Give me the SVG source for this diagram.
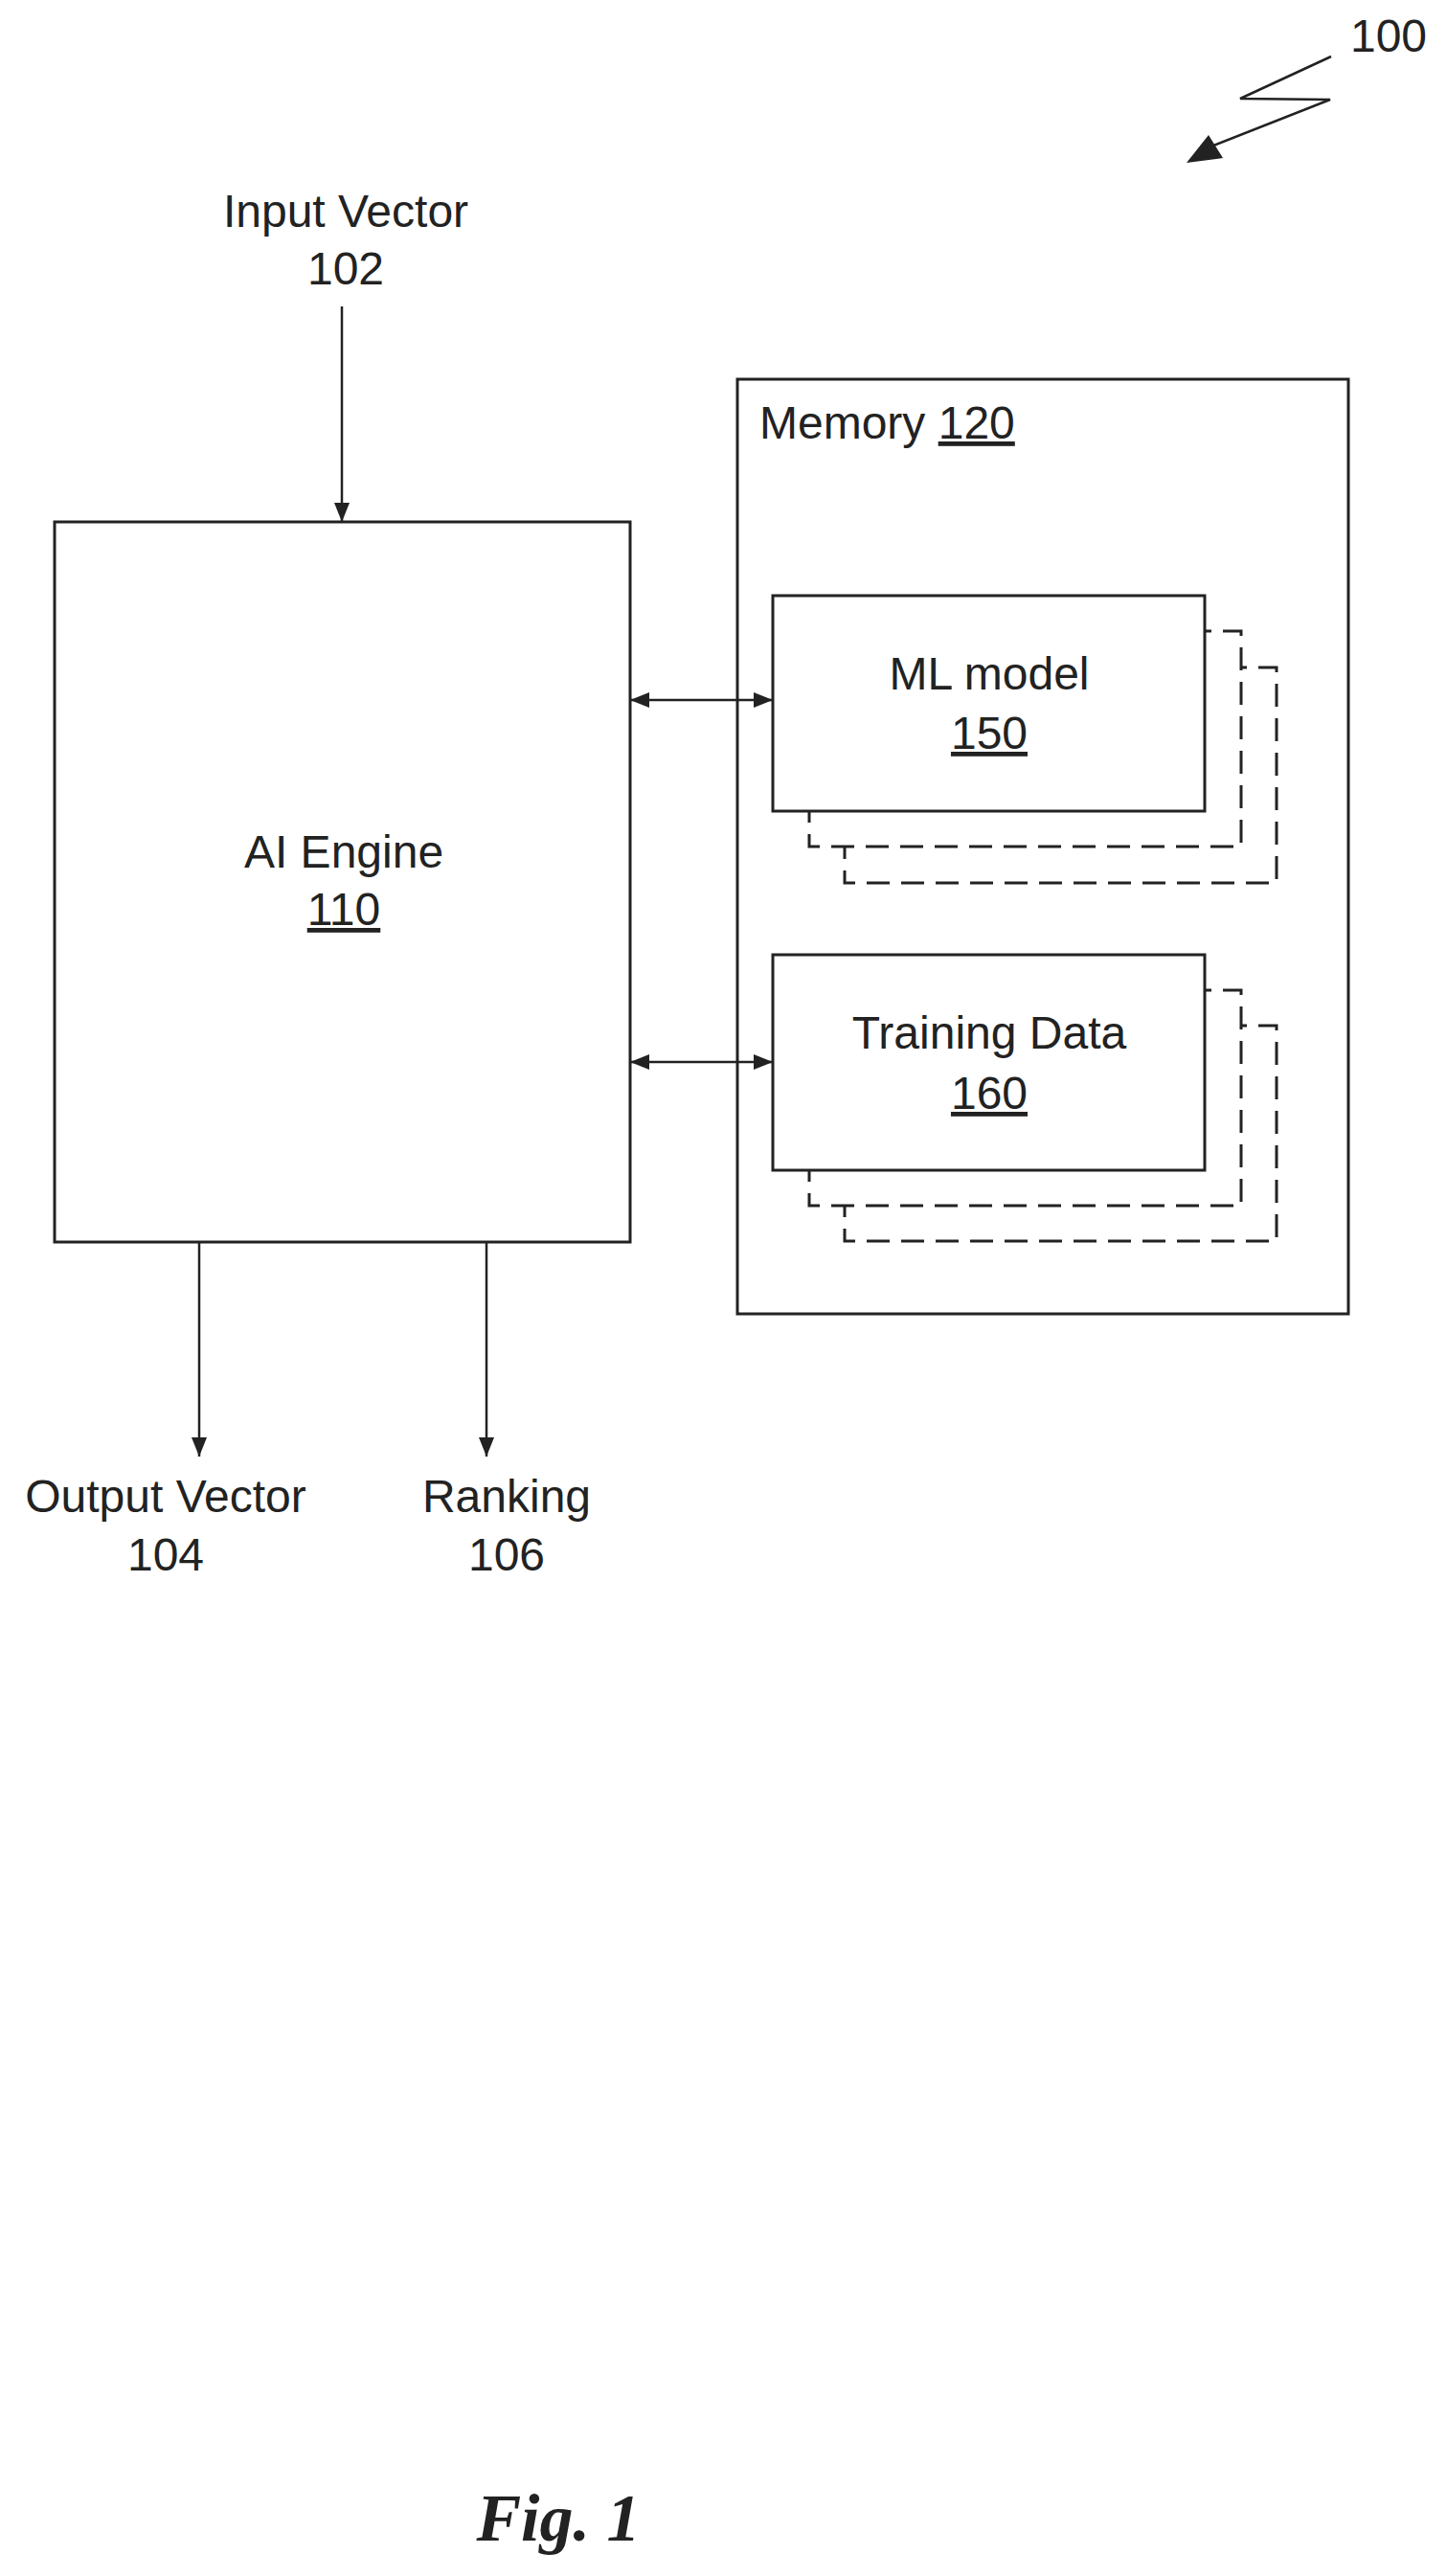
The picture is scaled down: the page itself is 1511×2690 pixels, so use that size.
<svg xmlns="http://www.w3.org/2000/svg" width="1511" height="2690" viewBox="0 0 1511 2690">
<style>
.t{font-family:"Liberation Sans",Arial,sans-serif;font-size:48px;fill:#222;text-anchor:middle}
.b{fill:#fff;stroke:#222;stroke-width:3}
.d{fill:none;stroke:#222;stroke-width:3;stroke-dasharray:24 12}
.c{fill:none;stroke:#222;stroke-width:2.5}
</style>
<defs>
<marker id="a" viewBox="0 0 10 10" refX="10" refY="5" markerWidth="8" markerHeight="8" orient="auto-start-reverse" markerUnits="userSpaceOnUse" style="overflow:visible">
<path d="M0,0 L10,5 L0,10 z" fill="#222" transform="scale(2.2) translate(-5.5,-2.7)"/>
</marker>
<marker id="h" viewBox="0 0 20 16" refX="20" refY="8" markerWidth="20" markerHeight="16" orient="auto-start-reverse" markerUnits="userSpaceOnUse">
<path d="M0,0 L20,8 L0,16 z" fill="#222"/>
</marker>
</defs>
<rect width="1511" height="2690" fill="#fff"/>
<g id="ref100">
<text x="1450" y="54" class="t">100</text>
<polyline class="c" points="1390,59 1295,103 1389,104 1267,152" stroke-width="3"/>
<path d="M1239,170 L1262,141 L1277,165 z" fill="#222"/>
</g>
<g id="input-label"><text x="361" y="237" class="t">Input Vector</text><text x="361" y="297" class="t">102</text></g>
<g id="ai-engine">
<rect class="b" x="57" y="545" width="601" height="752"/>
<text x="359" y="906" class="t">AI Engine</text>
<text x="359" y="966" class="t" text-decoration="underline">110</text>
</g>
<g id="memory">
<rect class="b" x="770" y="396" width="638" height="976"/>
<text x="793" y="458" class="t" style="text-anchor:start">Memory <tspan text-decoration="underline">120</tspan></text>
</g>
<g id="ml-model">
<rect class="d" x="882" y="697" width="451" height="225"/>
<rect class="b" x="845" y="659" width="451" height="225" style="fill:#fff;stroke-dasharray:24 12"/>
<rect class="b" x="807" y="622" width="451" height="225"/>
<text x="1033" y="720" class="t">ML model</text>
<text x="1033" y="782" class="t" text-decoration="underline">150</text>
</g>
<g id="training-data">
<rect class="d" x="882" y="1071" width="451" height="225"/>
<rect class="b" x="845" y="1034" width="451" height="225" style="fill:#fff;stroke-dasharray:24 12"/>
<rect class="b" x="807" y="997" width="451" height="225"/>
<text x="1033" y="1095" class="t">Training Data</text>
<text x="1033" y="1158" class="t" text-decoration="underline">160</text>
</g>
<g id="output-label"><text x="173" y="1579" class="t">Output Vector</text><text x="173" y="1640" class="t">104</text></g>
<g id="ranking-label"><text x="529" y="1579" class="t">Ranking</text><text x="529" y="1640" class="t">106</text></g>
<g id="connectors">
<line class="c" x1="357" y1="320" x2="357" y2="545" marker-end="url(#h)"/>
<line class="c" x1="658" y1="731" x2="807" y2="731" marker-start="url(#h)" marker-end="url(#h)"/>
<line class="c" x1="658" y1="1109" x2="807" y2="1109" marker-start="url(#h)" marker-end="url(#h)"/>
<line class="c" x1="208" y1="1297" x2="208" y2="1521" marker-end="url(#h)"/>
<line class="c" x1="508" y1="1297" x2="508" y2="1521" marker-end="url(#h)"/>
</g>
<g id="caption"><text x="583" y="2653" style="font-family:'Liberation Serif','Times New Roman',serif;font-size:70px;font-style:italic;font-weight:bold;fill:#222;text-anchor:middle">Fig. 1</text></g>
</svg>
